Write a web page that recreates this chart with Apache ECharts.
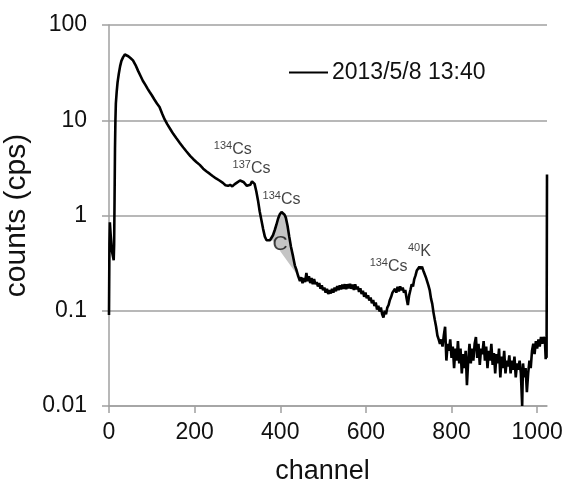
<!DOCTYPE html>
<html>
<head>
<meta charset="utf-8">
<script src="https://cdn.jsdelivr.net/npm/echarts@6/dist/echarts.min.js"></script>
<style>html,body{margin:0;padding:0;background:#fff;}#c{width:571px;height:479px;}</style>
</head>
<body>
<div id="c"></div>
<script>
var seriesName = '2013/5/8 13:40';
var xTicks = [0, 200, 400, 600, 800, 1000];
var yTickLabels = ['0.01', '0.1', '1', '10', '100'];

var channels = [
  0, 1, 2, 4, 7, 11, 12, 13, 14, 15, 16, 18, 20, 23, 26, 29, 33, 37, 41, 45, 50, 56, 62, 68, 74, 79, 85, 90, 95, 100,
  106, 112, 118, 124, 130, 136, 143, 150, 157, 165, 173, 181, 190, 197, 204, 212, 220, 228, 235, 242, 250, 258, 266,
  272, 278, 283, 288, 293, 298, 302, 306, 310, 314, 318, 322, 326, 330, 334, 337, 340, 344, 348, 352, 356, 360, 364,
  368, 372, 376, 379, 383, 387, 391, 395, 399, 403, 406, 410, 413, 417, 421, 425, 430, 434, 438, 442,
  446, 449, 452, 455, 458, 461, 464, 467, 470, 473, 476, 479, 482, 485, 488, 491, 494, 497, 500, 503, 506, 509, 512,
  515, 518, 521, 524, 527, 530, 533, 536, 539, 542, 545, 548, 551, 554, 557, 560, 563, 566, 569, 572, 575, 578, 581,
  584, 587, 590, 593, 596, 599, 602, 605, 608, 611, 614, 617, 620, 623, 626, 629, 632, 635, 638, 641, 644, 647, 650,
  653, 656, 659, 662, 665, 668, 671, 674, 677, 680, 683, 686, 689, 692, 695, 698, 701, 704, 707, 710, 713, 716, 719,
  722, 725, 728, 731, 734, 737, 740, 743, 746, 749, 752, 755, 758, 761, 764, 767, 770, 773, 776, 779, 782, 785, 788,
  791, 794, 797, 800, 803, 806, 809, 812, 815, 818, 821, 824, 827, 830, 833, 836, 839, 842, 845, 848, 851, 854, 857,
  860, 863, 866, 869, 872, 875, 878, 881, 884, 887, 890, 893, 896, 899, 902, 905, 908, 911, 914, 917, 920, 923, 926,
  929, 932, 935, 938, 941, 944, 947, 950, 953, 956, 959, 962, 965, 967, 970, 973, 976, 979, 982, 985, 988, 991, 994,
  997, 1000, 1003, 1006, 1009, 1012, 1015, 1018, 1020, 1021, 1022, 1023
];
var counts = [
  0.09, 0.5, 0.85, 0.62, 0.42, 0.34, 0.5, 1.5, 5, 10, 15, 20, 25, 31, 37, 42, 46, 49, 48.5, 47, 45, 42.5, 38, 33, 29, 26, 23.5, 21.5, 19.8, 18.3,
  16.5, 15, 13.8, 11.8, 10.2, 9.1, 8.1, 7.2, 6.5, 5.8, 5.2, 4.7, 4.2, 3.9, 3.65, 3.4, 3.1, 2.9, 2.75, 2.6, 2.45, 2.33, 2.2,
  2.08, 2.05, 2.1, 2.02, 2.12, 2.2, 2.3, 2.33, 2.28, 2.25, 2.15, 2.05, 2.0, 2.1, 2.28, 2.26, 2.15, 1.8, 1.44, 1.1, 0.89, 0.72, 0.6,
  0.55, 0.53, 0.55, 0.57, 0.62, 0.70, 0.8, 0.93, 1.03, 1.09, 1.08, 1.02, 0.95, 0.78, 0.6, 0.47, 0.37, 0.3, 0.266, 0.23,
  0.205, 0.225, 0.195, 0.22, 0.2, 0.25, 0.205, 0.23, 0.195, 0.22, 0.19, 0.215, 0.19, 0.2, 0.18, 0.195, 0.17, 0.185, 0.165, 0.175, 0.155, 0.17, 0.15,
  0.165, 0.152, 0.17, 0.155, 0.175, 0.16, 0.182, 0.165, 0.185, 0.168, 0.188, 0.17, 0.19, 0.168, 0.19, 0.172, 0.192, 0.17, 0.188, 0.165, 0.19, 0.168, 0.18,
  0.158, 0.172, 0.15, 0.162, 0.14, 0.155, 0.135, 0.145, 0.128, 0.138, 0.12, 0.13, 0.112, 0.122, 0.103, 0.113, 0.098, 0.108, 0.092, 0.085, 0.1, 0.092, 0.108,
  0.115, 0.13, 0.14, 0.155, 0.15, 0.17, 0.155, 0.178, 0.16, 0.18, 0.165, 0.175, 0.155, 0.165, 0.135, 0.115, 0.145, 0.165, 0.19, 0.18, 0.215, 0.235, 0.265,
  0.26, 0.29, 0.275, 0.29, 0.265, 0.255, 0.225, 0.215, 0.185, 0.165, 0.135, 0.118, 0.095, 0.08, 0.068, 0.055, 0.05, 0.045, 0.05, 0.042, 0.055, 0.068, 0.03,
  0.045, 0.038, 0.05, 0.032, 0.042, 0.025, 0.04, 0.03, 0.048, 0.028, 0.04, 0.022, 0.035, 0.025, 0.038, 0.0165, 0.03, 0.045, 0.028, 0.04, 0.03, 0.045, 0.053,
  0.032, 0.045, 0.027, 0.04, 0.035, 0.048, 0.03, 0.042, 0.025, 0.038, 0.03, 0.045, 0.027, 0.036, 0.022, 0.035, 0.028, 0.04, 0.02, 0.033, 0.025, 0.038, 0.022,
  0.03, 0.026, 0.034, 0.022, 0.03, 0.024, 0.033, 0.02, 0.028, 0.024, 0.03, 0.022, 0.01, 0.028, 0.02, 0.025, 0.014, 0.022, 0.03, 0.025, 0.038, 0.045, 0.035,
  0.048, 0.04, 0.05, 0.042, 0.053, 0.045, 0.053, 0.05, 0.031, 0.05, 0.032, 2.7
];

// shaded peak region (channel range of the grey area)
var peakStart = 379;
var peakEnd = 442;

// annotation labels: channel, value (position), superscript, element
var annChannels = [289, 333, 403, 653, 725];
var annValues = [4.96, 3.13, 1.48, 0.293, 0.42];
var annSup = ['134', '137', '134', '134', '40'];
var annMain = ['Cs', 'Cs', 'Cs', 'Cs', 'K'];
var cLabel = {ch: 399.5, v: 0.5, text: 'C'};

var FONT = "'Liberation Sans', Arial, Helvetica, sans-serif";

var lineData = channels.map(function (c, i) { return [c, counts[i]]; });
var fillData = lineData.filter(function (p) { return p[0] >= peakStart && p[0] <= peakEnd; });
var annData = annChannels.map(function (c, i) {
  return {value: [c, annValues[i]], label: {formatter: '{s|' + annSup[i] + '}{n|' + annMain[i] + '}'}};
});

var chart = echarts.init(document.getElementById('c'), null, {renderer: 'canvas'});
chart.setOption({
  animation: false,
  backgroundColor: '#fff',
  grid: {left: 109, right: 24, top: 25, bottom: 73, containLabel: false, outerBoundsMode: 'none'},
  legend: {
    data: [seriesName],
    left: 289, top: 61, padding: 0,
    icon: 'rect', itemWidth: 39, itemHeight: 2,
    itemStyle: {color: '#000'},
    textStyle: {fontFamily: FONT, fontSize: 23, color: '#111', padding: [0, 0, 0, -1]}
  },
  xAxis: {
    type: 'value', min: 0, max: 1023,
    name: 'channel', nameLocation: 'middle', nameGap: 52,
    nameTextStyle: {fontFamily: FONT, fontSize: 27, color: '#111', padding: [0, 11, 0, 0]},
    axisLine: {onZero: false, lineStyle: {color: '#a0a0a0', width: 1.5}},
    axisTick: {show: true, length: 7, lineStyle: {color: '#a0a0a0', width: 1.5}, customValues: xTicks},
    axisLabel: {fontFamily: FONT, fontSize: 23, color: '#111', margin: 15, customValues: xTicks,
      formatter: function (v) { return String(v); }},
    splitLine: {show: false}
  },
  yAxis: {
    type: 'log', logBase: 10, min: 0.01, max: 100, interval: 1,
    name: 'counts (cps)', nameLocation: 'middle', nameRotate: 90, nameGap: 62,
    nameTextStyle: {fontFamily: FONT, fontSize: 30, color: '#111'},
    axisLine: {show: true, onZero: false, lineStyle: {color: '#a0a0a0', width: 1.5}},
    axisTick: {show: true, length: 7, lineStyle: {color: '#a0a0a0', width: 1.5}},
    axisLabel: {
      fontFamily: FONT, fontSize: 23, color: '#111', margin: 22,
      formatter: function (v) {
        var k = Math.round(Math.log(v) / Math.LN10) + 2;
        return yTickLabels[k] !== undefined ? yTickLabels[k] : '';
      }
    },
    splitLine: {show: true, lineStyle: {color: '#a0a0a0', width: 1.5}}
  },
  series: [
    {
      type: 'custom',
      name: 'peak',
      silent: true,
      z: 1,
      data: fillData,
      encode: {x: 0, y: 1},
      renderItem: function (params, api) {
        if (params.dataIndex !== 0) return null;
        var pts = fillData.map(function (p) { return api.coord(p); });
        return {type: 'polygon', shape: {points: pts}, style: {fill: '#c4c4c4', stroke: null}};
      }
    },
    {
      type: 'line',
      name: seriesName,
      z: 3,
      data: lineData,
      showSymbol: false,
      symbol: 'none',
      lineStyle: {color: '#000', width: 2.6},
      itemStyle: {color: '#000'}
    },
    {
      type: 'scatter',
      name: 'ann',
      z: 4,
      silent: true,
      symbolSize: 1,
      itemStyle: {color: 'rgba(0,0,0,0)'},
      data: annData,
      label: {
        show: true, position: 'inside', color: '#111',
        rich: {
          s: {fontFamily: FONT, fontSize: 11, lineHeight: 11, verticalAlign: 'top', color: '#111'},
          n: {fontFamily: FONT, fontSize: 16, lineHeight: 18, color: '#111'}
        }
      }
    },
    {
      type: 'scatter',
      name: 'annC',
      z: 4,
      silent: true,
      symbolSize: 1,
      itemStyle: {color: 'rgba(0,0,0,0)'},
      data: [[cLabel.ch, cLabel.v]],
      label: {show: true, position: 'inside', formatter: cLabel.text, fontFamily: FONT, fontSize: 21, color: '#111'}
    }
  ]
});
</script>
</body>
</html>
